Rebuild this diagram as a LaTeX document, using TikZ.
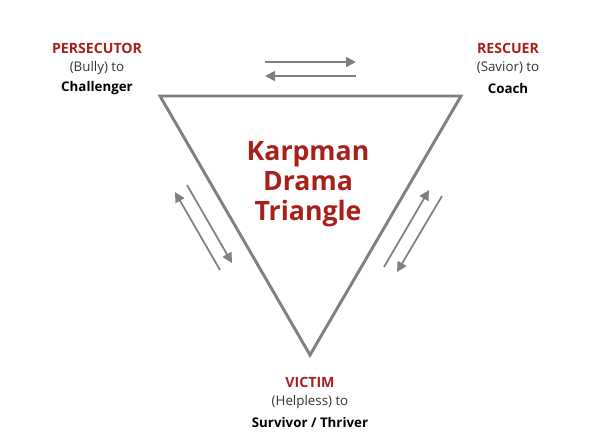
\documentclass[tikz,border=0pt]{standalone}
\usepackage{fontspec}
\setmainfont{Open Sans}
\usepackage{tikz}
\usetikzlibrary{arrows.meta}
\definecolor{dramared}{HTML}{A8201A}
\definecolor{edgegray}{HTML}{808080}
\tikzset{
	roletitle/.style={text=dramared, font=\bfseries\fontsize{10.6}{15}\selectfont},
	rolesub/.style={text=black!80, font=\fontsize{10}{15}\selectfont},
	rolegoal/.style={text=black, font=\bfseries\fontsize{10}{15}\selectfont},
	swap/.style={draw=edgegray, line width=1.3pt, -{Triangle[length=7.5pt,width=7.5pt]}}
}

\begin{document}
\begin{tikzpicture}[x=0.75pt, y=-0.75pt, inner sep=0pt]
			\useasboundingbox (0,0) rectangle (605,440);
			% corners of the triangle
			\coordinate (P) at (160,96);
			\coordinate (R) at (461,96);
			\coordinate (V) at (310,355);
			\draw [edgegray, line width=2.2pt, line join=miter] (P) -- (R) -- (V) -- cycle;
			
			\node [align=center, text=dramared, font=\bfseries\fontsize{20}{22.5}\selectfont] (title) at (308,184) {Karpman\\Drama\\Triangle};
			
			% persecutor
			\node [roletitle] (pers) at (97,48) {PERSECUTOR};
			\node [rolesub] (persa) at (97,68) {(Bully) to};
			\node [rolegoal] (persb) at (97,88) {Challenger};
			% rescuer
			\node [roletitle] (resc) at (508,48) {RESCUER};
			\node [rolesub] (resca) at (508,68) {(Savior) to};
			\node [rolegoal] (rescb) at (508,88) {Coach};
			% victim
			\node [roletitle] (vict) at (310,382) {VICTIM};
			\node [rolesub] (victa) at (310,402) {(Helpless) to};
			\node [rolegoal] (victb) at (310,422) {Survivor / Thriver};
			
			% arrows between the roles
			\coordinate (t1) at (265,62);
			\coordinate (t2) at (356,62);
			\coordinate (t3) at (356,76);
			\coordinate (t4) at (265,76);
			\draw [swap] (t1) -- (t2);
			\draw [swap] (t3) -- (t4);
			\coordinate (l1) at (220,270);
			\coordinate (l2) at (175,192);
			\coordinate (l3) at (187,185);
			\coordinate (l4) at (232,263);
			\draw [swap] (l1) -- (l2);
			\draw [swap] (l3) -- (l4);
			\coordinate (r1) at (384,267);
			\coordinate (r2) at (429,190);
			\coordinate (r3) at (442,196);
			\coordinate (r4) at (397,272);
			\draw [swap] (r1) -- (r2);
			\draw [swap] (r3) -- (r4);
		\end{tikzpicture}
\end{document}
